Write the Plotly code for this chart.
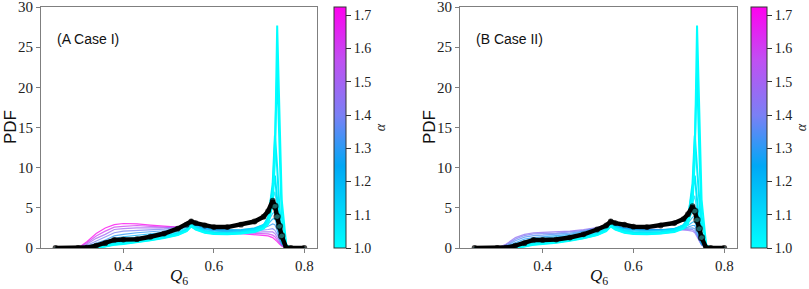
import plotly.graph_objects as go

# ---------------- data ----------------
q6 = [0.25, 0.30, 0.32, 0.34, 0.36, 0.38, 0.40, 0.43, 0.46, 0.49, 0.52, 0.54, 0.55,
      0.56, 0.58, 0.60, 0.63, 0.66, 0.69, 0.71, 0.72, 0.73, 0.735, 0.74, 0.745, 0.75,
      0.76, 0.77, 0.80]

alpha_case1 = [1.00, 1.02, 1.04, 1.06, 1.09, 1.12, 1.16, 1.22, 1.30, 1.40, 1.50, 1.60, 1.72]
alpha_case2 = [1.00, 1.02, 1.04, 1.06, 1.09, 1.12, 1.16, 1.22, 1.28, 1.34, 1.40, 1.46]

# rows: one per Q6 value, columns: one per alpha value
pdf_case1_rows = [
    [0, 0, 0, 0, 0, 0, 0, 0, 0, 0, 0, 0, 0],
    [0, 0, 0, 0, 0, 0, 0, 0, 0, 0, 0, 0, 0],
    [0, 0, 0, 0, 0, 0.02, 0.05, 0.1, 0.2, 0.35, 0.5, 0.65, 0.8],
    [0.05, 0.06, 0.08, 0.1, 0.12, 0.18, 0.25, 0.4, 0.6, 0.9, 1.2, 1.5, 1.8],
    [0.2, 0.22, 0.25, 0.3, 0.35, 0.45, 0.55, 0.8, 1.0, 1.4, 1.7, 2.1, 2.5],
    [0.4, 0.45, 0.5, 0.6, 0.7, 0.8, 0.95, 1.2, 1.5, 1.9, 2.3, 2.6, 2.9],
    [0.5, 0.55, 0.6, 0.7, 0.8, 0.95, 1.1, 1.4, 1.7, 2.1, 2.4, 2.7, 3.05],
    [0.7, 0.75, 0.8, 0.9, 1.0, 1.15, 1.3, 1.6, 1.9, 2.2, 2.5, 2.8, 3.0],
    [0.95, 1.0, 1.05, 1.1, 1.2, 1.35, 1.5, 1.75, 2.0, 2.3, 2.5, 2.7, 2.85],
    [1.25, 1.3, 1.35, 1.4, 1.5, 1.6, 1.75, 1.95, 2.15, 2.35, 2.5, 2.6, 2.7],
    [1.6, 1.65, 1.7, 1.8, 1.9, 2.0, 2.15, 2.3, 2.45, 2.55, 2.6, 2.6, 2.6],
    [2.1, 2.15, 2.2, 2.3, 2.4, 2.55, 2.7, 2.85, 2.95, 2.9, 2.8, 2.7, 2.6],
    [2.7, 2.75, 2.8, 2.9, 3.0, 3.1, 3.2, 3.3, 3.25, 3.1, 2.9, 2.75, 2.6],
    [2.3, 2.35, 2.4, 2.5, 2.6, 2.7, 2.8, 2.9, 2.85, 2.75, 2.6, 2.5, 2.45],
    [1.9, 1.95, 2.0, 2.1, 2.2, 2.3, 2.4, 2.5, 2.5, 2.45, 2.4, 2.35, 2.3],
    [1.75, 1.8, 1.85, 1.9, 2.0, 2.1, 2.2, 2.3, 2.35, 2.3, 2.25, 2.2, 2.15],
    [1.7, 1.75, 1.8, 1.85, 1.95, 2.05, 2.15, 2.25, 2.25, 2.2, 2.1, 2.05, 2.0],
    [1.8, 1.85, 1.9, 1.95, 2.05, 2.15, 2.25, 2.3, 2.2, 2.1, 2.0, 1.9, 1.8],
    [2.0, 2.05, 2.15, 2.25, 2.35, 2.45, 2.5, 2.45, 2.3, 2.1, 1.95, 1.8, 1.65],
    [2.4, 2.5, 2.6, 2.8, 2.9, 2.95, 2.9, 2.75, 2.5, 2.2, 2.0, 1.8, 1.6],
    [3.0, 3.2, 3.5, 3.8, 3.8, 3.6, 3.3, 3.0, 2.7, 2.3, 2.0, 1.75, 1.5],
    [5.5, 6.5, 8.0, 7.0, 6.0, 5.2, 4.3, 3.6, 3.0, 2.4, 2.0, 1.6, 1.3],
    [11, 13, 14, 9, 7, 5.5, 4.5, 3.7, 2.9, 2.2, 1.8, 1.4, 1.1],
    [27.7, 22, 10, 6, 5, 4.0, 3.3, 2.7, 2.2, 1.7, 1.3, 1.0, 0.8],
    [17, 12, 5, 3, 2.5, 2.0, 1.8, 1.5, 1.2, 1.0, 0.8, 0.6, 0.5],
    [6, 4, 2, 1, 1, 0.8, 0.7, 0.6, 0.5, 0.4, 0.35, 0.3, 0.25],
    [0.4, 0.3, 0.2, 0.1, 0.1, 0.05, 0.05, 0.03, 0.02, 0.02, 0.01, 0.01, 0],
    [0, 0, 0, 0, 0, 0, 0, 0, 0, 0, 0, 0, 0],
    [0, 0, 0, 0, 0, 0, 0, 0, 0, 0, 0, 0, 0],
]

pdf_case2_rows = [
    [0, 0, 0, 0, 0, 0, 0, 0, 0, 0, 0, 0],
    [0, 0, 0, 0, 0, 0, 0, 0, 0, 0, 0, 0],
    [0, 0, 0, 0, 0, 0.02, 0.05, 0.1, 0.2, 0.3, 0.4, 0.5],
    [0.05, 0.06, 0.08, 0.1, 0.15, 0.2, 0.3, 0.45, 0.65, 0.9, 1.1, 1.3],
    [0.2, 0.22, 0.25, 0.3, 0.4, 0.5, 0.65, 0.85, 1.1, 1.35, 1.55, 1.7],
    [0.4, 0.45, 0.5, 0.55, 0.65, 0.75, 0.9, 1.1, 1.3, 1.55, 1.75, 1.9],
    [0.5, 0.55, 0.6, 0.65, 0.75, 0.85, 1.0, 1.2, 1.4, 1.6, 1.8, 1.95],
    [0.65, 0.7, 0.75, 0.8, 0.9, 1.0, 1.15, 1.35, 1.5, 1.7, 1.85, 2.0],
    [0.9, 0.95, 1.0, 1.05, 1.15, 1.25, 1.4, 1.55, 1.7, 1.85, 2.0, 2.1],
    [1.2, 1.25, 1.3, 1.35, 1.45, 1.55, 1.7, 1.85, 2.0, 2.1, 2.2, 2.3],
    [1.6, 1.65, 1.7, 1.75, 1.85, 1.95, 2.05, 2.2, 2.35, 2.45, 2.5, 2.55],
    [2.1, 2.15, 2.2, 2.3, 2.4, 2.5, 2.6, 2.75, 2.85, 2.9, 2.9, 2.9],
    [2.7, 2.75, 2.8, 2.9, 3.0, 3.1, 3.2, 3.25, 3.2, 3.15, 3.1, 3.05],
    [2.3, 2.35, 2.4, 2.5, 2.6, 2.65, 2.75, 2.8, 2.8, 2.75, 2.7, 2.65],
    [1.9, 1.95, 2.0, 2.1, 2.2, 2.25, 2.35, 2.45, 2.5, 2.5, 2.45, 2.45],
    [1.75, 1.8, 1.85, 1.9, 2.0, 2.1, 2.2, 2.3, 2.35, 2.35, 2.35, 2.35],
    [1.7, 1.75, 1.8, 1.85, 1.95, 2.05, 2.15, 2.2, 2.25, 2.3, 2.3, 2.3],
    [1.8, 1.85, 1.9, 1.95, 2.05, 2.15, 2.2, 2.25, 2.3, 2.3, 2.3, 2.3],
    [2.0, 2.05, 2.15, 2.25, 2.35, 2.4, 2.45, 2.4, 2.35, 2.3, 2.3, 2.3],
    [2.4, 2.5, 2.6, 2.8, 2.9, 2.9, 2.8, 2.65, 2.5, 2.4, 2.3, 2.25],
    [3.0, 3.2, 3.5, 3.8, 3.7, 3.4, 3.1, 2.8, 2.6, 2.4, 2.3, 2.2],
    [5.5, 6.5, 8.0, 7.0, 5.5, 4.5, 3.8, 3.2, 2.8, 2.5, 2.3, 2.1],
    [11, 13, 14, 9, 6.5, 5, 4, 3.3, 2.8, 2.4, 2.1, 1.9],
    [27.7, 22, 10, 6, 4.5, 3.6, 3.0, 2.5, 2.1, 1.8, 1.6, 1.4],
    [17, 12, 5, 3, 2.3, 1.9, 1.6, 1.4, 1.2, 1.0, 0.9, 0.8],
    [6, 4, 2, 1, 0.9, 0.7, 0.6, 0.55, 0.5, 0.45, 0.4, 0.35],
    [0.4, 0.3, 0.2, 0.1, 0.1, 0.05, 0.05, 0.03, 0.02, 0.02, 0.01, 0.01],
    [0, 0, 0, 0, 0, 0, 0, 0, 0, 0, 0, 0],
    [0, 0, 0, 0, 0, 0, 0, 0, 0, 0, 0, 0],
]

black_case1 = [0, 0, 0.05, 0.3, 0.6, 1.0, 1.05, 1.1, 1.4, 1.8, 2.4, 2.9, 3.3, 3.1, 2.8,
               2.6, 2.6, 2.9, 3.3, 3.9, 4.6, 5.9, 5.2, 3.9, 2.7, 1.5, 0, 0, 0]
black_case2 = [0, 0, 0.05, 0.3, 0.6, 1.0, 1.0, 1.05, 1.3, 1.7, 2.3, 2.8, 3.3, 3.1, 2.9,
               2.65, 2.6, 2.8, 3.1, 3.6, 4.2, 5.2, 4.6, 3.5, 2.4, 1.3, 0, 0, 0]

panel_labels = ["(A Case I)", "(B Case II)"]
x_ticks = [0.4, 0.6, 0.8]
y_ticks = [0, 5, 10, 15, 20, 25, 30]
cbar_ticks = [1.0, 1.1, 1.2, 1.3, 1.4, 1.5, 1.6, 1.7]

# ---------------- style ----------------
CMIN, CMAX = 1.0, 1.725
cscale = [[0.0, "#00ffff"], [0.34, "#00a8f5"], [0.55, "#7a80f5"], [0.78, "#c050f2"], [1.0, "#ff00f0"]]


def hex2rgb(h):
    h = h.lstrip("#")
    return tuple(int(h[i:i + 2], 16) for i in (0, 2, 4))


def colour(a):
    t = (a - CMIN) / (CMAX - CMIN)
    t = min(max(t, 0), 1)
    for (t0, c0), (t1, c1) in zip(cscale[:-1], cscale[1:]):
        if t0 <= t <= t1:
            f = (t - t0) / (t1 - t0) if t1 > t0 else 0
            r0, g0, b0 = hex2rgb(c0)
            r1, g1, b1 = hex2rgb(c1)
            return "rgb(%d,%d,%d)" % (r0 + f * (r1 - r0), g0 + f * (g1 - g0), b0 + f * (b1 - b0))
    return cscale[-1][1]


SERIF = "Liberation Serif"
SANS = "Liberation Sans"
FRAME = "#7f7f7f"

W, H = 809, 289
plot_top, plot_bot = 7, 248
panels = [
    dict(x0=41, x1=317, cb_x=334, cb_w=12, rows=pdf_case1_rows, alphas=alpha_case1,
         black=black_case1, xa="x", ya="y"),
    dict(x0=460, x1=737, cb_x=751, cb_w=16, rows=pdf_case2_rows, alphas=alpha_case2,
         black=black_case2, xa="x2", ya="y2"),
]

# marker look: teal-filled circles on the steep falling edge, plain black elsewhere
on_edge = [0.735 <= q <= 0.755 for q in q6]
marker_fill = ["#2b8f8f" if e else "black" for e in on_edge]
marker_size = [6 if e else 4.5 for e in on_edge]


def yfrac(py):
    return 1 - py / H


fig = go.Figure()
for p in panels:
    curves = list(zip(*p["rows"]))
    order = list(range(len(p["alphas"])))[::-1]
    for i in order:
        a = p["alphas"][i]
        wide = a <= 1.06
        fig.add_trace(go.Scatter(
            x=q6, y=list(curves[i]), mode="lines",
            line=dict(color=colour(a), width=2.0 if wide else 1.2),
            opacity=1.0 if wide else 0.75,
            xaxis=p["xa"], yaxis=p["ya"], showlegend=False, hoverinfo="skip"))
    fig.add_trace(go.Scatter(
        x=q6, y=p["black"], mode="lines+markers",
        line=dict(color="black", width=4.5),
        marker=dict(symbol="circle", size=marker_size, color=marker_fill,
                    line=dict(color="black", width=1.3)),
        xaxis=p["xa"], yaxis=p["ya"], showlegend=False, hoverinfo="skip"))
    cb_len = (plot_bot - plot_top) / H
    fig.add_trace(go.Scatter(
        x=[0.5], y=[-50], mode="markers",
        marker=dict(color=[CMIN], cmin=CMIN, cmax=CMAX, colorscale=cscale, showscale=True,
                    colorbar=dict(
                        x=p["cb_x"] / W, xanchor="left", xpad=0, ypad=0,
                        y=yfrac((plot_top + plot_bot) / 2), yanchor="middle",
                        len=cb_len, lenmode="fraction", thickness=p["cb_w"], thicknessmode="pixels",
                        tickvals=cbar_ticks, ticktext=["%.1f" % v for v in cbar_ticks],
                        ticks="outside", ticklen=5, tickcolor="#333", tickwidth=1,
                        tickfont=dict(family=SERIF, size=14, color="#222"),
                        outlinecolor="#333", outlinewidth=1,
                        title=dict(text="<i>α</i>", side="right",
                                   font=dict(family=SERIF, size=14, color="#222")))),
        xaxis=p["xa"], yaxis=p["ya"], showlegend=False, hoverinfo="skip"))

axis_common = dict(showgrid=False, zeroline=False, showline=True, mirror=True,
                   linecolor=FRAME, linewidth=1.2, ticks="outside", ticklen=4,
                   tickcolor=FRAME, tickwidth=1, automargin=False, ticklabeloverflow="allow",
                   tickfont=dict(family=SERIF, size=15, color="#222"))

layout = dict(width=W, height=H, margin=dict(l=0, r=0, t=0, b=0, autoexpand=False),
              paper_bgcolor="white", plot_bgcolor="white")
for k, p in enumerate(panels):
    sfx = "" if k == 0 else "2"
    layout["xaxis" + sfx] = dict(axis_common, domain=[p["x0"] / W, p["x1"] / W],
                                 range=[0.218, 0.828], tickvals=x_ticks,
                                 ticktext=["%.1f" % v for v in x_ticks],
                                 anchor="y" + sfx)
    layout["yaxis" + sfx] = dict(axis_common, domain=[yfrac(plot_bot), yfrac(plot_top)],
                                 range=[0, 30], tickvals=y_ticks,
                                 ticktext=[str(v) for v in y_ticks],
                                 anchor="x" + sfx)
fig.update_layout(**layout)

ann = []
for k, p in enumerate(panels):
    cx = (p["x0"] + p["x1"]) / 2
    ann.append(dict(x=cx / W, y=yfrac(277), xref="paper", yref="paper",
                    xanchor="center", yanchor="middle",
                    text="<i>Q</i><sub>6</sub>", showarrow=False,
                    font=dict(family=SERIF, size=17, color="#111")))
    ann.append(dict(x=(p["x0"] - 31) / W, y=yfrac(127), xref="paper", yref="paper",
                    xanchor="center", yanchor="middle",
                    text="PDF", textangle=-90, showarrow=False,
                    font=dict(family=SANS, size=17, color="#111")))
    ann.append(dict(x=(p["x0"] + 14) / W, y=yfrac(39), xref="paper", yref="paper",
                    xanchor="left", yanchor="middle", text=panel_labels[k], showarrow=False,
                    font=dict(family=SANS, size=14, color="#111")))
fig.update_layout(annotations=ann)

fig.write_html("out.html", config={"displayModeBar": False},
               post_script="document.body.style.margin='0';")
